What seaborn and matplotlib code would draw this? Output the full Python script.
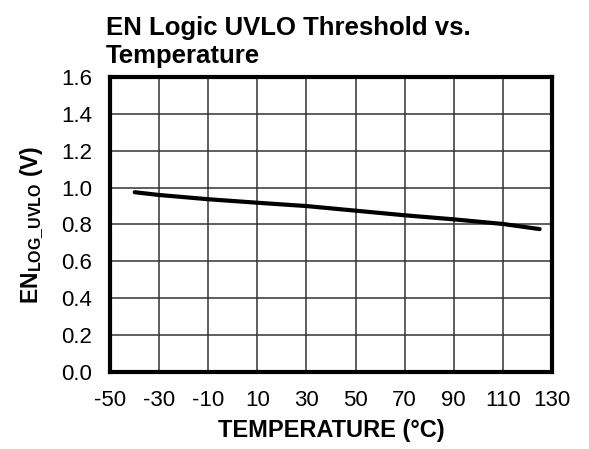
import matplotlib
matplotlib.use("Agg")
import matplotlib.pyplot as plt
import seaborn as sns
import pandas as pd

# --- data ---
temperature = [-40, -30, -10, 10, 30, 50, 70, 90, 110, 125]
en_log_uvlo = [0.975, 0.960, 0.937, 0.918, 0.900, 0.875, 0.850, 0.828, 0.803, 0.775]
x_ticks = [-50, -30, -10, 10, 30, 50, 70, 90, 110, 130]
y_ticks = [0.0, 0.2, 0.4, 0.6, 0.8, 1.0, 1.2, 1.4, 1.6]

df = pd.DataFrame({"temp": temperature, "uvlo": en_log_uvlo})

sns.set_style("white")
plt.rcParams['font.family'] = ['Liberation Sans', 'DejaVu Sans']
plt.rcParams['axes.unicode_minus'] = False
plt.rcParams['text.color'] = 'black'
plt.rcParams['axes.labelcolor'] = 'black'
plt.rcParams['xtick.color'] = 'black'
plt.rcParams['ytick.color'] = 'black'

fig = plt.figure(figsize=(5.89, 4.49), dpi=100)
ax = fig.add_axes([0.187, 0.1715, 0.75, 0.657])

sns.lineplot(data=df, x="temp", y="uvlo", color="black", linewidth=3, ax=ax)

ax.set_xlim(-50, 130)
ax.set_ylim(0, 1.6)
ax.set_xticks(x_ticks)
ax.set_yticks(y_ticks)
ax.set_yticklabels([f"{v:.1f}" for v in y_ticks])
ax.tick_params(labelsize=16, length=0)
ax.tick_params(axis="y", pad=13)
ax.tick_params(axis="x", pad=13)
ax.grid(True, color="#333333", linewidth=1.1)
for sp in ax.spines.values():
    sp.set_visible(True)
    sp.set_linewidth(3)
    sp.set_color("black")

ax.set_xlabel("TEMPERATURE (°C)", fontsize=17, fontweight="bold", labelpad=6)
ax.set_ylabel(r"EN$_{\mathregular{LOG\_UVLO}}$ (V)", fontsize=16.5, fontweight="bold", labelpad=11)
ax.set_title("EN Logic UVLO Threshold vs.\nTemperature", loc="left",
             fontsize=18.5, fontweight="bold", pad=10, x=-0.01, linespacing=1.2)

fig.savefig("out.png", dpi=100)
